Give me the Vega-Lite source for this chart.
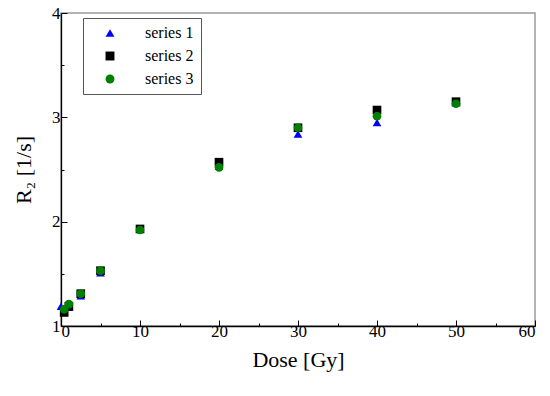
{
  "$schema": "https://vega.github.io/schema/vega-lite/v6.json",
  "width": 474,
  "height": 313,
  "autosize": {"type": "none"},
  "padding": {"left": 61, "top": 13, "right": 15, "bottom": 70},
  "background": "white",
  "config": {
    "font": "Liberation Serif",
    "view": {"stroke": "#9a9a9a", "strokeWidth": 1.5},
    "axis": {
      "domainColor": "black",
      "domainWidth": 1.3,
      "tickColor": "black",
      "tickWidth": 1,
      "grid": false
    }
  },
  "data": {
    "values": [
      {"dose": 0, "r2": 1.19, "series": "series 1"},
      {"dose": 1, "r2": 1.18, "series": "series 1"},
      {"dose": 2.5, "r2": 1.29, "series": "series 1"},
      {"dose": 5, "r2": 1.51, "series": "series 1"},
      {"dose": 10, "r2": 1.93, "series": "series 1"},
      {"dose": 20, "r2": 2.53, "series": "series 1"},
      {"dose": 30, "r2": 2.84, "series": "series 1"},
      {"dose": 40, "r2": 2.95, "series": "series 1"},
      {"dose": 50, "r2": 3.14, "series": "series 1"},
      {"dose": 0.4, "r2": 1.13, "series": "series 2"},
      {"dose": 1, "r2": 1.19, "series": "series 2"},
      {"dose": 2.5, "r2": 1.31, "series": "series 2"},
      {"dose": 5, "r2": 1.53, "series": "series 2"},
      {"dose": 10, "r2": 1.93, "series": "series 2"},
      {"dose": 20, "r2": 2.57, "series": "series 2"},
      {"dose": 30, "r2": 2.90, "series": "series 2"},
      {"dose": 40, "r2": 3.07, "series": "series 2"},
      {"dose": 50, "r2": 3.15, "series": "series 2"},
      {"dose": 0.4, "r2": 1.16, "series": "series 3"},
      {"dose": 1, "r2": 1.21, "series": "series 3"},
      {"dose": 2.5, "r2": 1.31, "series": "series 3"},
      {"dose": 5, "r2": 1.53, "series": "series 3"},
      {"dose": 10, "r2": 1.92, "series": "series 3"},
      {"dose": 20, "r2": 2.52, "series": "series 3"},
      {"dose": 30, "r2": 2.90, "series": "series 3"},
      {"dose": 40, "r2": 3.01, "series": "series 3"},
      {"dose": 50, "r2": 3.13, "series": "series 3"}
    ]
  },
  "mark": {"type": "point", "filled": true, "opacity": 1, "size": 75},
  "encoding": {
    "x": {
      "field": "dose",
      "type": "quantitative",
      "scale": {"domain": [0, 60], "nice": false, "zero": false},
      "axis": {
        "title": "Dose [Gy]",
        "values": [0, 5, 10, 15, 20, 25, 30, 35, 40, 45, 50, 55, 60],
        "labelExpr": "datum.value % 10 === 0 ? format(datum.value, 'd') : ''",
        "tickSize": {"condition": {"test": "datum.value % 10 === 0", "value": -6}, "value": -3},
        "labelPadding": 3,
        "titlePadding": 10,
        "labelFont": "Liberation Serif",
        "labelFontSize": 17,
        "labelColor": "black",
        "titleFont": "Liberation Serif",
        "titleFontSize": 22,
        "titleFontWeight": "normal",
        "titleColor": "black"
      }
    },
    "y": {
      "field": "r2",
      "type": "quantitative",
      "scale": {"domain": [1, 4], "nice": false, "zero": false},
      "axis": {
        "title": "R₂ [1/s]",
        "values": [1, 1.5, 2, 2.5, 3, 3.5, 4],
        "labelExpr": "datum.value % 1 === 0 ? format(datum.value, 'd') : ''",
        "tickSize": {"condition": {"test": "datum.value % 1 === 0", "value": -6}, "value": -3},
        "labelPadding": 7,
        "titlePadding": 16,
        "labelFont": "Liberation Serif",
        "labelFontSize": 17,
        "labelColor": "black",
        "titleFont": "Liberation Serif",
        "titleFontSize": 22,
        "titleFontWeight": "normal",
        "titleColor": "black"
      }
    },
    "color": {
      "field": "series",
      "type": "nominal",
      "scale": {"domain": ["series 1", "series 2", "series 3"], "range": ["#0000ff", "#000000", "#008000"]},
      "legend": {
        "title": null,
        "orient": "none",
        "legendX": 22,
        "legendY": 5,
        "strokeColor": "#555555",
        "fillColor": "white",
        "padding": 7,
        "symbolOffset": 12,
        "labelFont": "Liberation Serif",
        "labelFontSize": 16,
        "labelColor": "black",
        "labelOffset": 27,
        "rowPadding": 7,
        "symbolSize": 80,
        "symbolStrokeWidth": 0
      }
    },
    "shape": {
      "field": "series",
      "type": "nominal",
      "scale": {"domain": ["series 1", "series 2", "series 3"], "range": ["triangle-up", "square", "circle"]},
      "legend": null
    }
  }
}
